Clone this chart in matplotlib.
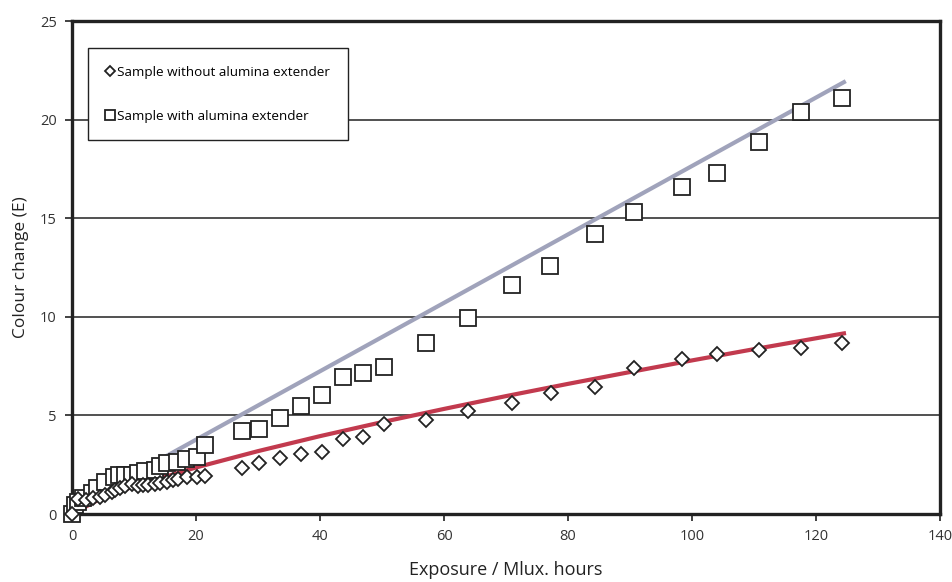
import matplotlib
matplotlib.use('Agg')
import matplotlib.pyplot as plt

# measured points, sample without alumina extender (diamonds)
x_without = [0, 1.0, 2.2, 3.4, 4.5, 5.3, 6.4, 7.0, 7.7, 8.5, 9.6, 10.7, 11.5, 12.3,
             13.4, 14.2, 15.3, 16.3, 17.1, 18.5, 20.1, 21.5,
             27.4, 30.2, 33.5, 36.9, 40.3, 43.7, 47.0, 50.3, 57.1, 63.8, 71.0,
             77.2, 84.4, 90.7, 98.4, 104.1, 110.8, 117.5, 124.2]
y_without = [0, 0.75, 0.7, 0.8, 0.88, 0.96, 1.13, 1.2, 1.3, 1.42, 1.5, 1.42, 1.45, 1.47,
             1.52, 1.55, 1.64, 1.72, 1.8, 1.86, 1.89, 1.94,
             2.31, 2.6, 2.82, 3.04, 3.15, 3.8, 3.91, 4.59, 4.76, 5.23, 5.63,
             6.14, 6.44, 7.42, 7.84, 8.13, 8.3, 8.43, 8.69]

# measured points, sample with alumina extender (squares)
x_with = [0, 0.5, 1.0, 1.8, 3.2, 4.0, 5.3, 6.7, 7.5, 8.5, 9.6, 10.7, 11.8, 13.4,
          14.2, 15.3, 16.9, 18.4, 20.1, 21.5,
          27.4, 30.2, 33.5, 36.9, 40.3, 43.7, 47.0, 50.3, 57.1, 63.8, 71.0,
          77.1, 84.4, 90.7, 98.4, 104.1, 110.8, 117.5, 124.2]
y_with = [0, 0.45, 0.62, 0.8, 1.05, 1.3, 1.6, 1.9, 2.0, 2.0, 2.0, 2.06, 2.19, 2.23,
          2.43, 2.6, 2.65, 2.77, 2.87, 3.49,
          4.22, 4.29, 4.89, 5.5, 6.06, 6.95, 7.17, 7.47, 8.65, 9.95, 11.59,
          12.6, 14.19, 15.33, 16.6, 17.27, 18.89, 20.38, 21.09]

# trend lines
trend_with_x = [0, 124.5]
trend_with_y = [0.3, 21.9]
trend_without_x = [0, 5, 10, 20, 30, 40, 50, 60, 70, 80, 90, 100, 110, 124.5]
trend_without_y = [0, 0.85, 1.41, 2.36, 3.19, 3.95, 4.66, 5.33, 5.98, 6.6, 7.2, 7.79, 8.36, 9.16]

xticks = [0, 20, 40, 60, 80, 100, 120, 140]
yticks = [0, 5, 10, 15, 20, 25]

plt.rcParams['font.family'] = ['Open Sans', 'DejaVu Sans']

fig = plt.figure(figsize=(9.53, 5.82), dpi=100)
ax = fig.add_axes([0.0756, 0.1168, 0.9108, 0.8471])

for y in [5, 10, 15, 20]:
    ax.axhline(y, color='#222222', lw=1.1, zorder=1)

ax.plot(trend_with_x, trend_with_y, color='#a0a3bb', lw=3.0, zorder=2)
ax.plot(trend_without_x, trend_without_y, color='#c23a4e', lw=3.0, zorder=2)

ax.plot(x_without, y_without, linestyle='none', marker='D', ms=7.5, mfc='white',
        mec='#222222', mew=1.3, zorder=4, clip_on=False,
        label='Sample without alumina extender')
ax.plot(x_with, y_with, linestyle='none', marker='s', ms=11, mfc='white',
        mec='#222222', mew=1.3, zorder=3, clip_on=False,
        label='Sample with alumina extender')

ax.set_xlim(0, 140)
ax.set_ylim(0, 25)
ax.set_xticks(xticks)
ax.set_yticks(yticks)
ax.tick_params(direction='out', length=5, width=1.3, labelsize=10.5, colors='#333333', pad=6)
for s in ax.spines.values():
    s.set_linewidth(2.4)
    s.set_color('#222222')

ax.set_xlabel('Exposure / Mlux. hours', fontsize=13, labelpad=12, color='#222222')
ax.set_ylabel('Colour change (E)', fontsize=12.5, labelpad=8, color='#222222')

leg = ax.legend(loc='upper left', bbox_to_anchor=(0.018, 0.945), borderaxespad=0,
                fancybox=False, edgecolor='#222222', framealpha=1, fontsize=9.7,
                handlelength=0.7, handletextpad=0.2, labelspacing=2.3,
                borderpad=1.3, markerscale=0.65)
leg.get_frame().set_linewidth(1.0)
leg.set_zorder(5)

fig.savefig('out.png', dpi=100)
